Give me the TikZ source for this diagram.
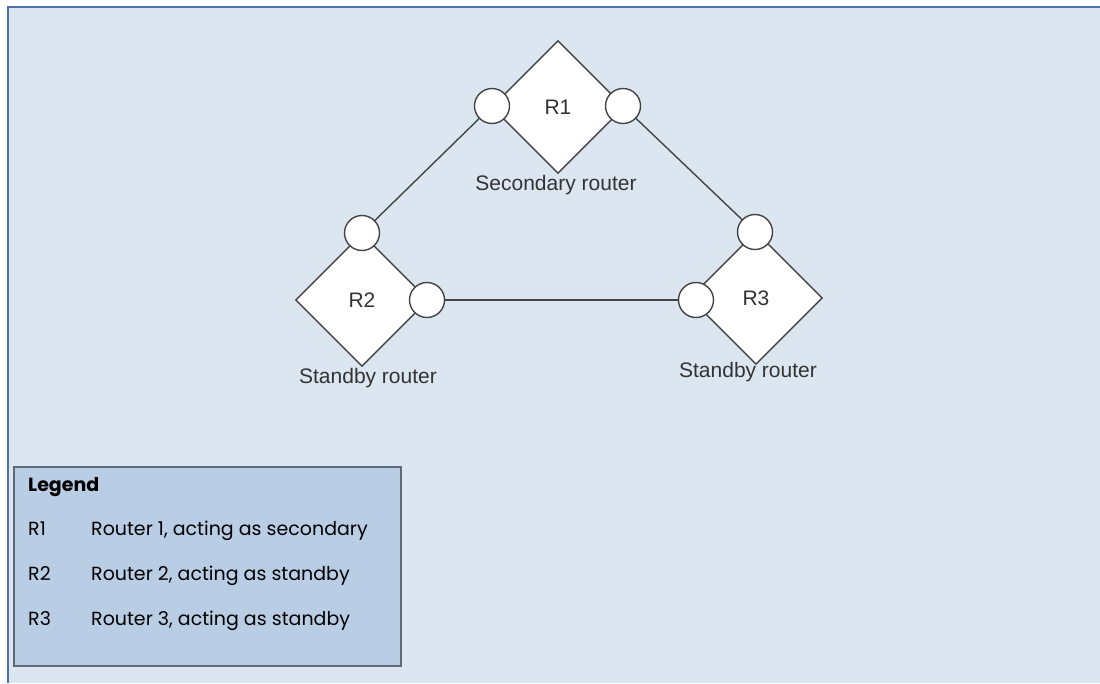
\documentclass[tikz,border=0pt]{standalone}
\usepackage{fontspec}
\setmainfont{Liberation Sans}
\newfontfamily\legendfont{Poppins}
\usetikzlibrary{shapes.geometric}
\definecolor{panelfill}{HTML}{DCE6F1}
\definecolor{panelline}{HTML}{4F71A8}
\definecolor{legfill}{HTML}{B9CDE5}
\definecolor{legline}{HTML}{5F6A78}
\definecolor{ink}{HTML}{444444}
\definecolor{txt}{HTML}{333333}
\tikzset{
  router/.style={diamond, aspect=1, minimum width=133pt, minimum height=133pt, inner sep=0pt,
    draw=ink, line width=1.4pt, fill=white, text=txt, font=\fontsize{21}{24}\selectfont},
  port/.style={circle, minimum size=35pt, inner sep=0pt, draw=ink, line width=1.4pt, fill=white},
  link/.style={draw=ink, line width=1.4pt},
  rlabel/.style={anchor=base, text=txt, font=\fontsize{21}{24}\selectfont, inner sep=0pt},
  legtext/.style={anchor=base west, inner sep=0pt, text=black, font=\legendfont\fontsize{19}{22}\selectfont},
}
\begin{document}
\begin{tikzpicture}[x=1pt, y=-1pt]
\useasboundingbox (0,0) rectangle (1100,683);
\fill[white] (0,0) rectangle (1100,683);
\fill[panelfill] (8,7) rectangle (1100,683);
\draw[panelline, line width=1.5pt] (8,683) -- (8,7) -- (1100,7);

% routers
\node[router] (r1) at (558,107) {R1};
\node[router] (r2) at (362,300) {R2};
\node[router] (r3) at (756,298) {R3};

% ports
\node[port] (p1l) at (492,106) {};
\node[port] (p1r) at (623,106) {};
\node[port] (p2t) at (362,233) {};
\node[port] (p2r) at (427,300) {};
\node[port] (p3t) at (755,232) {};
\node[port] (p3l) at (696,300) {};

% links
\draw[link] (p1l) -- (p2t);
\draw[link] (p1r) -- (p3t);
\draw[link] (p2r) -- (p3l);

% labels
\node[rlabel] (l1) at (556,190) {Secondary router};
\node[rlabel] (l2) at (368,383) {Standby router};
\node[rlabel] (l3) at (748,377) {Standby router};

% legend
\node[draw=legline, fill=legfill, line width=1.5pt, minimum width=387pt, minimum height=199pt,
  inner sep=0pt, anchor=north west] (legend) at (13,466) {};
\node[legtext, font=\legendfont\bfseries\fontsize{19}{22}\selectfont] (lt) at (28,491) {Legend};
\node[legtext] (k1) at (28,535) {R1};
\node[legtext] (d1) at (91,535) {Router 1, acting as secondary};
\node[legtext] (k2) at (28,580) {R2};
\node[legtext] (d2) at (91,580) {Router 2, acting as standby};
\node[legtext] (k3) at (28,625) {R3};
\node[legtext] (d3) at (91,625) {Router 3, acting as standby};
\end{tikzpicture}
\end{document}
